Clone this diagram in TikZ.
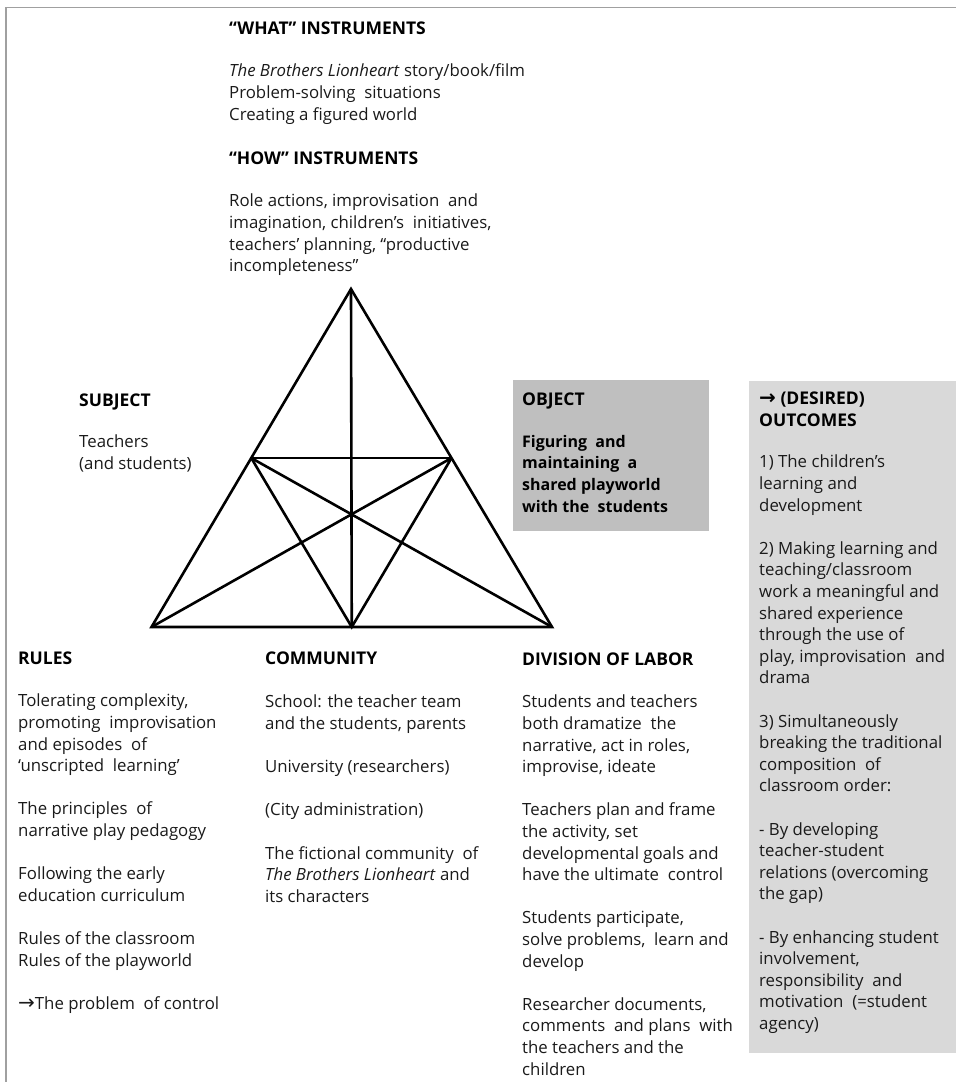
\documentclass[tikz,border=0pt]{standalone}
\usepackage{fontspec}
\setmainfont{Open Sans}
\newfontfamily\arrowfont{DejaVu Sans}
\usetikzlibrary{calc}
\definecolor{framegray}{HTML}{A0A0A0}
\definecolor{objgray}{HTML}{BFBFBF}
\definecolor{outgray}{HTML}{D9D9D9}
\definecolor{ink}{HTML}{1A1A1A}
\newcommand{\arr}{{\arrowfont\fontsize{20}{21.6}\selectfont →}}
\newcommand{\gap}{\\[21.6pt]}
\tikzset{
  txt/.style={anchor=north west, yshift=15.12pt, inner sep=0pt, align=left, text=ink,
    font=\fontsize{16.8}{21.6}\selectfont, execute at begin node={\strut}},
  head/.style={txt, text=black, font=\fontsize{17.5}{21.6}\selectfont\bfseries},
  boldtxt/.style={txt, text=black, font=\fontsize{16}{21.6}\selectfont\bfseries},
  tri/.style={line width=2.6pt, line join=miter, black},
  frame/.style={draw=framegray, line width=1.3pt},
}
\begin{document}
\begin{tikzpicture}[x=1pt,y=-1pt]
\useasboundingbox (0,0) rectangle (956,1082);
% frame
\coordinate (f1) at (6,1082);
\coordinate (f2) at (6,7.3);
\coordinate (f3) at (956,7.3);
\draw[frame] (f1) -- (f2) -- (f3);
% boxes
\node[fill=objgray, minimum width=196pt, minimum height=151pt, anchor=north west, inner sep=0pt] (objbox) at (513,380) {};
\node[fill=outgray, minimum width=207pt, minimum height=672pt, anchor=north west, inner sep=0pt] (outbox) at (749,381) {};
% triangle
\coordinate (A) at (351,289);
\coordinate (B) at (151.5,627);
\coordinate (C) at (552,627);
\coordinate (M) at ($(B)!0.5!(C)$);
\coordinate (L) at ($(A)!0.5!(B)$);
\coordinate (R) at ($(A)!0.5!(C)$);
\draw[tri] (A) -- (B) -- (C) -- cycle;
\draw[tri] (A) -- (M);
\draw[tri] (L) -- (R);
\draw[tri] (L) -- (M) -- (R);
\draw[tri] (L) -- (C);
\draw[tri] (R) -- (B);
% top texts
\node[head] (what) at (229,34) {“WHAT” INSTRUMENTS};
\node[txt] (whatbody) at (229,79) {\textit{The Brothers Lionheart} story/book/film\\Problem-solving\ \ situations\\Creating a figured world};
\node[head] (how) at (229,164) {“HOW” INSTRUMENTS};
\node[txt] (howbody) at (229,209) {Role actions, improvisation\ \ and\\imagination, children’s\ \ initiatives,\\teachers’ planning, “productive\\incompleteness”};
% subject
\node[head] (subject) at (79,406) {SUBJECT};
\node[txt] (subjectbody) at (79,450) {Teachers\\(and students)};
% object
\node[head] (object) at (522,405) {OBJECT};
\node[boldtxt] (objectbody) at (522,450) {Figuring\ \ and\\maintaining\ \ a\\shared playworld\\with the\ \ students};
% outcomes
\node[head] (outcomes) at (759,407) {\arr\ (DESIRED)\\OUTCOMES};
\node[txt] (outcomesbody) at (759,470) {1) The children’s\\learning and\\development\gap 2) Making learning and\\teaching/classroom\\work a meaningful and\\shared experience\\through the use of\\play, improvisation\ \ and\\drama\gap 3) Simultaneously\\breaking the traditional\\composition\ \ of\\classroom order:\gap - By developing\\teacher-student\\relations (overcoming\\the gap)\gap - By enhancing student\\involvement,\\responsibility\ \ and\\motivation\ \ (=student\\agency)};
% rules
\node[head] (rules) at (18,664) {RULES};
\node[txt] (rulesbody) at (18,709) {Tolerating complexity,\\promoting\ \ improvisation\\and episodes\ \ of\\‘unscripted\ \ learning’\gap The principles\ \ of\\narrative play pedagogy\gap Following the early\\education curriculum\gap Rules of the classroom\\Rules of the playworld\gap \arr The problem\ \ of control};
% community
\node[head] (community) at (265,664) {COMMUNITY};
\node[txt] (communitybody) at (265,710) {School: the teacher team\\and the students, parents\gap University (researchers)\gap (City administration)\gap The fictional community\ \ of\\\textit{The Brothers Lionheart} and\\its characters};
% division of labor
\node[head] (division) at (522,665) {DIVISION OF LABOR};
\node[txt] (divisionbody) at (522,710) {Students and teachers\\both dramatize\ \ the\\narrative, act in roles,\\improvise, ideate\gap Teachers plan and frame\\the activity, set\\developmental goals and\\have the ultimate\ \ control\gap Students participate,\\solve problems,\ \ learn and\\develop\gap Researcher documents,\\comments\ \ and plans\ \ with\\the teachers and the\\children};
\end{tikzpicture}
\end{document}
